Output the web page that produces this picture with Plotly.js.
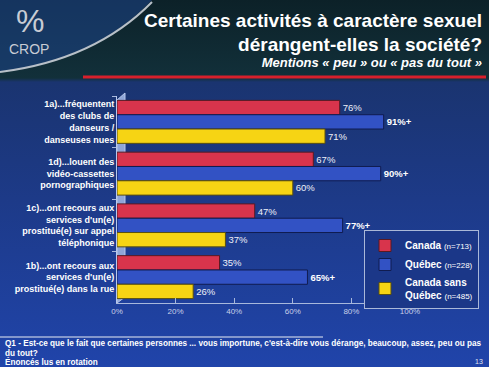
<!DOCTYPE html>
<html>
<head>
<meta charset="utf-8">
<script src="https://cdn.plot.ly/plotly-3.0.1.min.js"></script>
<style>
html,body{margin:0;padding:0;width:489px;height:367px;overflow:hidden;}
#bg{position:absolute;left:0;top:0;width:489px;height:367px;
background:
 linear-gradient(to bottom, #0c2128 0px, #12303a 78px, #1a3470 82px, #1d3a88 200px, #2044aa 367px);}
#chart{position:absolute;left:0;top:0;width:489px;height:367px;}
</style>
</head>
<body>
<div id="bg"></div>
<div id="chart"></div>
<script>
// ---- data ----
var categories = [
  "1a)...fréquentent<br>des clubs de<br>danseurs /<br>danseuses nues",
  "1d)...louent des<br>vidéo-cassettes<br>pornographiques",
  "1c)...ont recours aux<br>services d'un(e)<br>prostitué(e) sur appel<br>téléphonique",
  "1b)...ont recours aux<br>services d'un(e)<br>prostitué(e) dans la rue"
];
var canada = [76, 67, 47, 35];
var quebec = [91, 90, 77, 65];
var canadaSansQuebec = [71, 60, 37, 26];
var seriesNames = [
  "Canada <span style='font-size:8px;font-weight:normal'>(n=713)</span>",
  "Québec <span style='font-size:8px;font-weight:normal'>(n=228)</span>",
  "Canada sans<br>Québec <span style='font-size:8px;font-weight:normal'>(n=485)</span>"
];
var xTicks = [0, 20, 40, 60, 80, 100];
var xTickText = ["0%", "20%", "40%", "60%", "80%", "100%"];
var footerLines = [
  "Q1 - Est-ce que le fait que certaines personnes ... vous importune, c'est-à-dire vous dérange, beaucoup, assez, peu ou pas",
  "du tout?",
  "Énoncés lus en rotation"
];

// ---- pixel -> paper helpers for decorations ----
var L = 117, R = 410, T = 96, B = 303;
function px(x){ return (x - L) / (R - L); }
function py(y){ return (B - y) / (B - T); }

var FONT = "Liberation Sans, Arial, sans-serif";

function labels(arr, suffix){ return arr.map(function(v){ return v + suffix; }); }

var traces = [
  {name: seriesNames[0], x: canada, y: categories, orientation: 'h', type: 'bar',
   marker: {color: '#d8344c', line: {color: '#5a1a22', width: 1}},
   text: labels(canada, '%'), textposition: 'outside', cliponaxis: false,
   textfont: {family: FONT, size: 9.5, color: '#eef0f8'}},
  {name: seriesNames[1], x: quebec, y: categories, orientation: 'h', type: 'bar',
   marker: {color: '#3252c4', line: {color: '#101c50', width: 1}},
   text: labels(quebec, '%+'), textposition: 'outside', cliponaxis: false,
   textfont: {family: FONT, size: 9.5, color: '#ffffff', weight: 'bold'}},
  {name: seriesNames[2], x: canadaSansQuebec, y: categories, orientation: 'h', type: 'bar',
   marker: {color: '#f6d414', line: {color: '#5a5010', width: 1}},
   text: labels(canadaSansQuebec, '%'), textposition: 'outside', cliponaxis: false,
   textfont: {family: FONT, size: 9.5, color: '#eef0f8'}}
];

var shapes = [
  {type: 'path', xref: 'paper', yref: 'paper', layer: 'below',
   path: 'M ' + px(0) + ' ' + py(0) + ' L ' + px(152) + ' ' + py(0) +
         ' Q ' + px(95) + ' ' + py(60) + ' ' + px(0) + ' ' + py(72) + ' Z',
   fillcolor: 'rgba(30,70,140,0.55)', line: {width: 0}},
  {type: 'path', xref: 'paper', yref: 'paper',
   path: 'M ' + px(0) + ' ' + py(72) + ' Q ' + px(95) + ' ' + py(60) + ' ' + px(152) + ' ' + py(2),
   line: {color: '#b8c0c8', width: 2}},
  {type: 'line', xref: 'paper', yref: 'paper', x0: px(83), x1: px(486), y0: py(77), y1: py(77),
   line: {color: '#d8202c', width: 3}},
  {type: 'path', xref: 'paper', yref: 'paper', layer: 'below',
   path: 'M ' + px(117) + ' ' + py(303) + ' L ' + px(117) + ' ' + py(100) +
         ' L ' + px(125) + ' ' + py(93) + ' L ' + px(125) + ' ' + py(297) + ' Z',
   fillcolor: '#8fa6d8', line: {color: '#b8c8ec', width: 1}},
  {type: 'line', xref: 'paper', yref: 'paper', x0: px(0), x1: px(323), y0: py(337), y1: py(337),
   line: {color: '#e8ecf4', width: 1}}
];

var annotations = [
  {text: '%', xref: 'paper', yref: 'paper', x: px(30), y: py(21), showarrow: false,
   xanchor: 'center', yanchor: 'middle', font: {family: FONT, size: 32, color: '#c8ccd4'}},
  {text: 'CROP', xref: 'paper', yref: 'paper', x: px(29), y: py(49), showarrow: false,
   xanchor: 'center', yanchor: 'middle', font: {family: FONT, size: 14, color: '#c8ccd4'}},
  {text: '<b>Certaines activités à caractère sexuel</b>',
   xref: 'paper', yref: 'paper', x: px(484), y: py(21), xanchor: 'right', yanchor: 'middle',
   width: 380, align: 'right', showarrow: false,
   font: {family: FONT, size: 19, color: '#ffffff'}},
  {text: '<b>dérangent-elles la société?</b>',
   xref: 'paper', yref: 'paper', x: px(484), y: py(44), xanchor: 'right', yanchor: 'middle',
   width: 380, align: 'right', showarrow: false,
   font: {family: FONT, size: 19, color: '#ffffff'}},
  {text: '<b><i>Mentions « peu » ou « pas du tout »</i></b>',
   xref: 'paper', yref: 'paper', x: px(484), y: py(63), xanchor: 'right', yanchor: 'middle',
   width: 300, align: 'right', showarrow: false,
   font: {family: FONT, size: 13, color: '#ffffff'}},
  {text: '<b>' + footerLines[0] + '</b>', xref: 'paper', yref: 'paper', x: px(3), y: py(343),
   xanchor: 'left', yanchor: 'middle', align: 'left', showarrow: false,
   font: {family: FONT, size: 8.2, color: '#ffffff'}},
  {text: '<b>' + footerLines[1] + '</b>', xref: 'paper', yref: 'paper', x: px(3), y: py(353),
   xanchor: 'left', yanchor: 'middle', align: 'left', showarrow: false,
   font: {family: FONT, size: 8.2, color: '#ffffff'}},
  {text: '<b>' + footerLines[2] + '</b>', xref: 'paper', yref: 'paper', x: px(3), y: py(362),
   xanchor: 'left', yanchor: 'middle', align: 'left', showarrow: false,
   font: {family: FONT, size: 8.2, color: '#ffffff'}},
  {text: '13', xref: 'paper', yref: 'paper', x: px(485), y: py(361), xanchor: 'right',
   yanchor: 'middle', showarrow: false, font: {family: FONT, size: 7, color: '#e0e4f0'}}
];

var layout = {
  width: 489, height: 367,
  margin: {l: L, r: 489 - R, t: T, b: 367 - B, pad: 0, autoexpand: false},
  paper_bgcolor: 'rgba(0,0,0,0)', plot_bgcolor: 'rgba(0,0,0,0)',
  barmode: 'group', bargap: 0.17, bargroupgap: 0,
  showlegend: true,
  legend: {x: px(479), y: py(230), xanchor: 'right', yanchor: 'top',
    bgcolor: '#1b3788', bordercolor: '#aab8d8', borderwidth: 1,
    font: {family: FONT, size: 10, color: '#ffffff', weight: 'bold'},
    traceorder: 'normal', itemwidth: 30},
  xaxis: {range: [0, 100], tickmode: 'array', tickvals: xTicks, ticktext: xTickText,
    showgrid: false, zeroline: false,
    showline: true, linecolor: '#a8b8dc', linewidth: 1,
    ticks: 'inside', ticklen: 5, tickcolor: '#a8b8dc',
    tickfont: {family: FONT, size: 8, color: '#c8d0e8'}},
  yaxis: {autorange: 'reversed', showgrid: false, zeroline: false,
    showline: true, linecolor: '#b8c8ec', linewidth: 1,
    ticks: 'outside', tickson: 'boundaries', ticklen: 4, tickcolor: '#a8b8dc',
    tickfont: {family: FONT, size: 9, color: '#ffffff', weight: 'bold'}},
  shapes: shapes,
  annotations: annotations,
  font: {family: FONT}
};

Plotly.newPlot('chart', traces, layout, {displayModeBar: false, staticPlot: true});
</script>
</body>
</html>
